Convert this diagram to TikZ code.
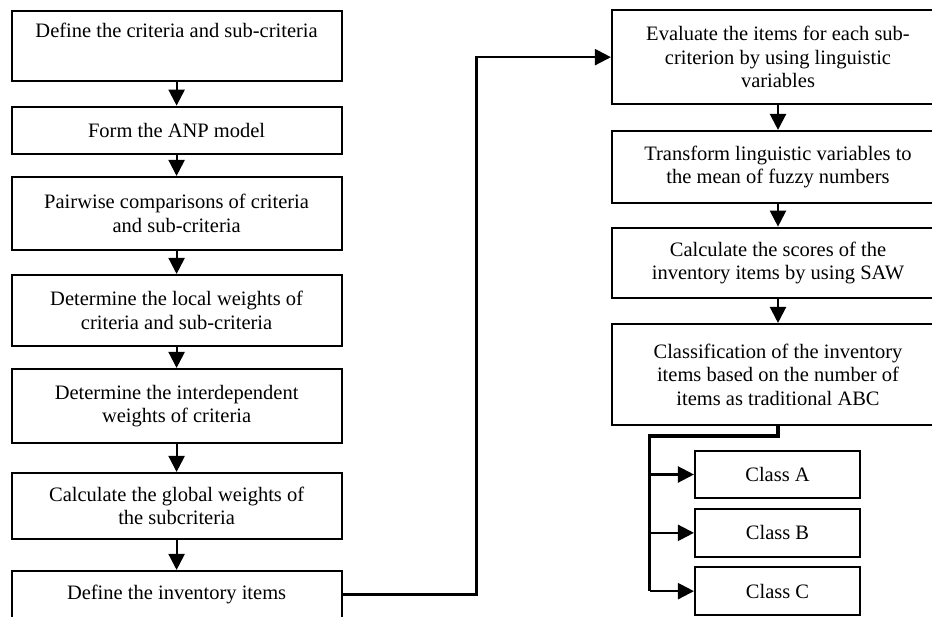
\documentclass[tikz,border=0pt]{standalone}
\usepackage{fontspec}
\setmainfont{Liberation Serif}
\usetikzlibrary{arrows.meta}
\begin{document}
\begin{tikzpicture}[x=1pt,y=-1pt,
  box/.style={draw,line width=2.1pt,rectangle,align=center,inner sep=0pt,
    font=\fontsize{20.5}{23.5}\selectfont},
  lbox/.style={box,minimum width=330pt},
  rbox/.style={box,minimum width=332pt},
  cbox/.style={box,minimum width=165pt,minimum height=47.6pt},
  arr/.style={line width=2.2pt,-{Triangle[length=16pt,width=16pt]}},
  thick branch/.style={line width=3.3pt}]
\useasboundingbox (0,0) rectangle (932,616);
% left column
\node[lbox,minimum height=70.3pt] (L1) at (176.6,45.85) {Define the criteria and sub-criteria\\ \strut};
\node[lbox,minimum height=47.3pt] (L2) at (176.6,130.35) {Form the ANP model};
\node[lbox,minimum height=73pt] (L3) at (176.6,213.5) {Pairwise comparisons of criteria\\and sub-criteria};
\node[lbox,minimum height=71pt] (L4) at (176.6,310.5) {Determine the local weights of\\criteria and sub-criteria};
\node[lbox,minimum height=74pt] (L5) at (176.6,406) {Determine the interdependent\\weights of criteria};
\node[lbox,minimum height=66pt] (L6) at (176.6,506) {Calculate the global weights of\\the subcriteria};
\node[lbox,minimum height=47pt] (L7) at (176.6,594.5) {Define the inventory items};
% right column
\node[rbox,minimum height=94.3pt] (R1) at (778,57.15) {Evaluate the items for each sub-\\criterion by using linguistic\\variables};
\node[rbox,minimum height=71.7pt] (R2) at (778,166.85) {Transform linguistic variables to\\the mean of fuzzy numbers};
\node[rbox,minimum height=70.6pt] (R3) at (778,263) {Calculate the scores of the\\inventory items by using SAW};
\node[rbox,minimum height=101pt] (R4) at (778,374.5) {Classification of the inventory\\items based on the number of\\items as traditional ABC};
% classes
\node[cbox] (CA) at (777.5,474.5) {Class A};
\node[cbox] (CB) at (777.5,532.85) {Class B};
\node[cbox] (CC) at (777.5,591.15) {Class C};
% connectors
\draw[arr] (L1) -- (L2);
\draw[arr] (L2) -- (L3);
\draw[arr] (L3) -- (L4);
\draw[arr] (L4) -- (L5);
\draw[arr] (L5) -- (L6);
\draw[arr] (L6) -- (L7);
\coordinate (mid) at (476.5,0);
\draw[arr] (L7.east) -| (mid |- R1.west) -- (R1.west);
\draw[arr] (R1) -- (R2);
\draw[arr] (R2) -- (R3);
\draw[arr] (R3) -- (R4);
\coordinate (split) at (649.5,436);
\coordinate (bot) at (649.5,591.15);
\draw[thick branch] (R4.south) |- (split) -- (bot);
\draw[arr] (split |- CA.west) -- (CA.west);
\draw[arr] (split |- CB.west) -- (CB.west);
\draw[arr] (bot) -- (CC.west);
\end{tikzpicture}
\end{document}
